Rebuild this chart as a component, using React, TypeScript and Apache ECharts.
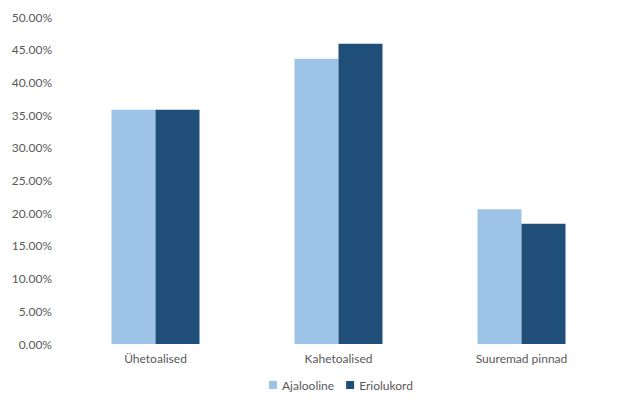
import React, { useEffect, useRef } from "react";
import * as echarts from "echarts";

const categories = ["Ühetoalised", "Kahetoalised", "Suuremad pinnad"];
const ajalooline = [0.358, 0.436, 0.206];
const eriolukord = [0.358, 0.459, 0.184];
const seriesNames = ["Ajalooline", "Eriolukord"];

export default function App() {
  const ref = useRef<HTMLDivElement>(null);
  useEffect(() => {
    const chart = echarts.init(ref.current!, null, { renderer: "svg" });
    const font = "Lato";
    chart.setOption({
      animation: false,
      textStyle: { fontFamily: font },
      grid: { left: 64, right: 16, top: 17, bottom: 61, containLabel: false },
      legend: {
        bottom: 9,
        left: 264,
        itemWidth: 8,
        itemHeight: 8,
        itemGap: 12,
        icon: "rect",
        textStyle: { color: "#595959", fontSize: 12, fontFamily: font, letterSpacing: 0.4 },
        data: seriesNames,
      },
      xAxis: {
        type: "category",
        data: categories,
        axisLine: { show: false },
        axisTick: { show: false },
        axisLabel: { color: "#595959", fontSize: 12, margin: 8, fontFamily: font, letterSpacing: 0.4 },
      },
      yAxis: {
        type: "value",
        min: 0,
        max: 0.5,
        interval: 0.05,
        splitLine: { show: false },
        axisLine: { show: false },
        axisTick: { show: false },
        axisLabel: {
          color: "#595959",
          fontSize: 12,
          margin: 12,
          fontFamily: font,
          formatter: (v: number) => (v * 100).toFixed(2) + "%",
        },
      },
      series: [
        {
          name: seriesNames[0],
          type: "bar",
          data: ajalooline,
          barWidth: 44,
          barGap: "0%",
          itemStyle: { color: "#9DC3E6" },
        },
        {
          name: seriesNames[1],
          type: "bar",
          data: eriolukord,
          barWidth: 44,
          barGap: "0%",
          itemStyle: { color: "#1F4E79" },
        },
      ],
    });
    return () => chart.dispose();
  }, []);
  return <div ref={ref} style={{ width: 629, height: 405, margin: -8 }} />;
}
